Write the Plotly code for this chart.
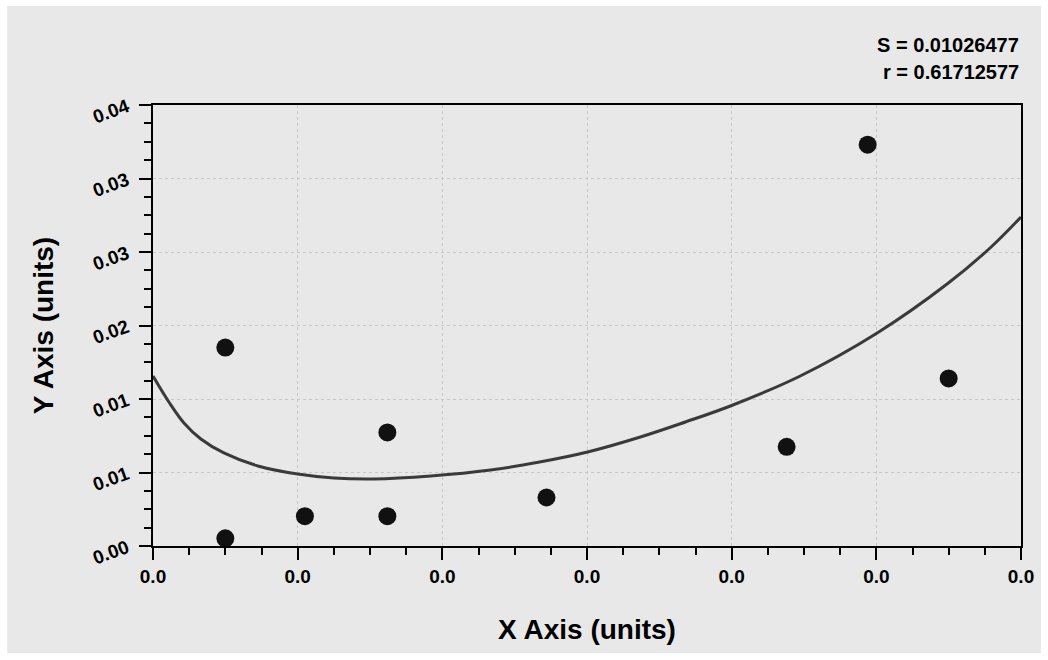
import plotly.graph_objects as go

# Scatter data
pt_x = [0.0050, 0.0050, 0.0105, 0.0162, 0.0162, 0.0272, 0.0438, 0.0494, 0.0550]
pt_y = [0.0180, 0.0007, 0.0027, 0.0103, 0.0027, 0.0044, 0.0090, 0.0364, 0.0152]

# Fitted curve
fit_x = [0.0, 0.0011, 0.00214, 0.00331, 0.0049, 0.00725, 0.0100, 0.0125, 0.01526,
         0.0192, 0.02334, 0.02672, 0.03004, 0.03369, 0.0368, 0.03991, 0.04474,
         0.05006, 0.05489, 0.05786, 0.0600]
fit_y = [0.01542, 0.01306, 0.01116, 0.00971, 0.00844, 0.00726, 0.00653, 0.00617,
         0.00608, 0.00635, 0.00689, 0.00762, 0.00853, 0.00989, 0.01125, 0.01270,
         0.01542, 0.01932, 0.02376, 0.02703, 0.02984]

y_tickvals = [0.0, 0.04 / 6, 0.08 / 6, 0.12 / 6, 0.16 / 6, 0.20 / 6, 0.04]
y_ticktext = ["0.00", "0.01", "0.01", "0.02", "0.03", "0.03", "0.04"]
x_tickvals = [0.0, 0.01, 0.02, 0.03, 0.04, 0.05, 0.06]
x_ticktext = ["0.0", "0.0", "0.0", "0.0", "0.0", "0.0", "0.0"]

stats = ["S = 0.01026477", "r = 0.61712577"]

FONT = "Liberation Sans, Arial, sans-serif"

fig = go.Figure()
fig.add_trace(go.Scatter(x=fit_x, y=fit_y, mode="lines",
                         line=dict(color="#3a3a3a", width=3, shape="spline", smoothing=1.0),
                         hoverinfo="skip", showlegend=False))
fig.add_trace(go.Scatter(x=pt_x, y=pt_y, mode="markers",
                         marker=dict(color="#111111", size=18),
                         showlegend=False))

axis_common = dict(
    showline=True, linecolor="black", linewidth=2, mirror=True,
    ticks="outside", ticklen=12, tickwidth=2, tickcolor="black",
    showgrid=True, gridcolor="#c8c8c8", griddash="dot", gridwidth=1,
    zeroline=False,
    tickfont=dict(family=FONT, size=19, color="black", weight="bold"),
)

fig.update_xaxes(
    range=[0, 0.06], tickmode="array", tickvals=x_tickvals, ticktext=x_ticktext,
    minor=dict(dtick=0.0025, tick0=0, ticks="outside", ticklen=7, tickwidth=2,
               tickcolor="black", showgrid=False),
    title=dict(text="X Axis (units)", standoff=34,
               font=dict(family=FONT, size=28, color="black", weight="bold")),
    **axis_common)
fig.update_yaxes(
    range=[0, 0.04], tickmode="array", tickvals=y_tickvals, ticktext=y_ticktext,
    tickangle=-20, ticklabelstandoff=8,
    minor=dict(dtick=0.04 / 24, tick0=0, ticks="outside", ticklen=7, tickwidth=2,
               tickcolor="black", showgrid=False),
    title=dict(text="Y Axis (units)", standoff=28,
               font=dict(family=FONT, size=28, color="black", weight="bold")),
    **axis_common)

# gray panel behind the plot area
fig.add_shape(type="rect", xref="paper", yref="paper",
              x0=-0.168, x1=1.023, y0=-0.2426, y1=1.2245,
              fillcolor="#e8e8e8", line=dict(width=0), layer="below")

for i, s in enumerate(stats):
    fig.add_annotation(text=s, xref="paper", yref="paper", x=1.0,
                       y=1.136 - 0.061 * i, xanchor="right", yanchor="middle",
                       showarrow=False,
                       font=dict(family=FONT, size=20, color="black", weight="bold"))

fig.update_layout(
    width=1048, height=660,
    margin=dict(l=153, r=27, t=105, b=114, autoexpand=False),
    paper_bgcolor="white", plot_bgcolor="white",
    font=dict(family=FONT),
)

fig.write_html("out.html")
